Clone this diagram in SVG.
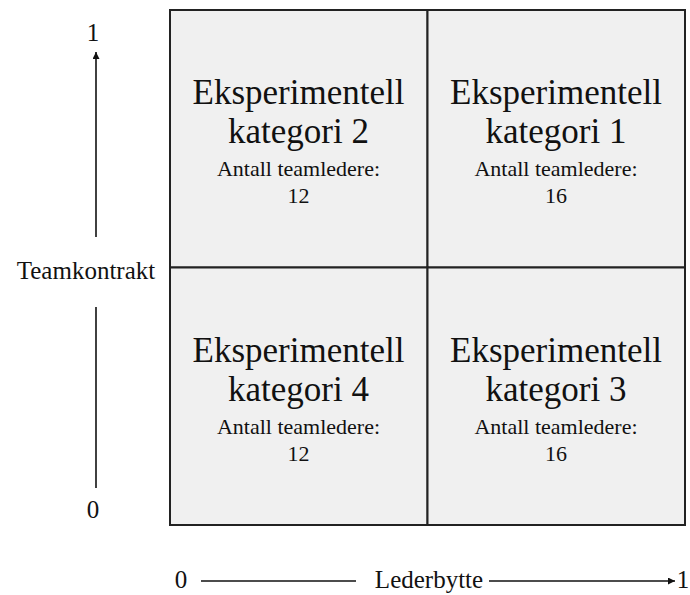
<svg xmlns="http://www.w3.org/2000/svg" width="690" height="595" viewBox="0 0 690 595">
  <style>
    .cell { fill: #f0f0f0; stroke: #222; stroke-width: 2; }
    .title { font-family: "Liberation Serif", "Times New Roman", serif; font-size: 35px; fill: #111; text-anchor: middle; }
    .sub { font-family: "Liberation Serif", "Times New Roman", serif; font-size: 22px; fill: #111; text-anchor: middle; }
    .axis { font-family: "Liberation Serif", "Times New Roman", serif; font-size: 25px; fill: #111; text-anchor: middle; }
    .conn { stroke: #111; stroke-width: 1.6; fill: none; }
  </style>
  <defs>
    <marker id="arrow" viewBox="0 0 10 10" refX="10" refY="5" markerWidth="7" markerHeight="7" markerUnits="userSpaceOnUse" orient="auto">
      <path d="M0,0 L10,5 L0,10 z" fill="#111"/>
    </marker>
  </defs>
  <rect width="690" height="595" fill="#ffffff"/>

  <!-- quadrant cells -->
  <g id="kategori2">
    <rect class="cell" x="170" y="10" width="257.5" height="257.5"/>
    <text class="title" x="298.5" y="104">Eksperimentell</text>
    <text class="title" x="298.5" y="143">kategori 2</text>
    <text class="sub" x="298.5" y="176">Antall teamledere:</text>
    <text class="sub" x="298.5" y="203">12</text>
  </g>
  <g id="kategori1">
    <rect class="cell" x="427.5" y="10" width="257.5" height="257.5"/>
    <text class="title" x="556" y="104">Eksperimentell</text>
    <text class="title" x="556" y="143">kategori 1</text>
    <text class="sub" x="556" y="176">Antall teamledere:</text>
    <text class="sub" x="556" y="203">16</text>
  </g>
  <g id="kategori4">
    <rect class="cell" x="170" y="267.5" width="257.5" height="257.5"/>
    <text class="title" x="298.5" y="361.5">Eksperimentell</text>
    <text class="title" x="298.5" y="400.5">kategori 4</text>
    <text class="sub" x="298.5" y="433.5">Antall teamledere:</text>
    <text class="sub" x="298.5" y="460.5">12</text>
  </g>
  <g id="kategori3">
    <rect class="cell" x="427.5" y="267.5" width="257.5" height="257.5"/>
    <text class="title" x="556" y="361.5">Eksperimentell</text>
    <text class="title" x="556" y="400.5">kategori 3</text>
    <text class="sub" x="556" y="433.5">Antall teamledere:</text>
    <text class="sub" x="556" y="460.5">16</text>
  </g>

  <!-- axis labels -->
  <g id="y-axis-labels">
    <text class="axis" x="93" y="41">1</text>
    <text class="axis" x="86" y="279">Teamkontrakt</text>
    <text class="axis" x="93" y="518">0</text>
  </g>
  <g id="x-axis-labels">
    <text class="axis" x="181" y="588">0</text>
    <text class="axis" x="429" y="588">Lederbytte</text>
    <text class="axis" x="683" y="588">1</text>
  </g>

  <!-- axis connectors -->
  <g id="connectors">
    <line class="conn" x1="96" y1="237" x2="96" y2="52" marker-end="url(#arrow)"/>
    <line class="conn" x1="96" y1="307" x2="96" y2="488"/>
    <line class="conn" x1="201" y1="581" x2="356" y2="581"/>
    <line class="conn" x1="489" y1="581" x2="675" y2="581" marker-end="url(#arrow)"/>
  </g>
</svg>
